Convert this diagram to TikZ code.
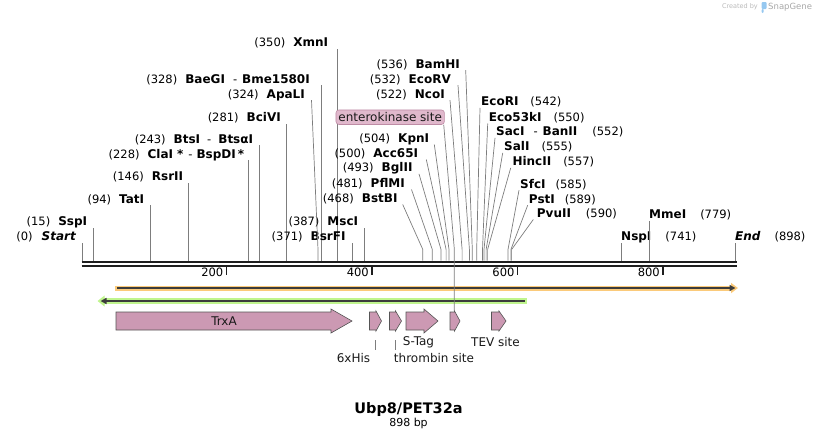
\documentclass[tikz,border=0pt]{standalone}
\usepackage{fontspec}
\setmainfont{DejaVu Sans}
\usetikzlibrary{
    arrows.meta,
    calc,
    positioning
}
\definecolor{cutgray}{RGB}{125,125,125}
\definecolor{mapblack}{RGB}{30,30,30}
\definecolor{featpink}{RGB}{204,153,179}
\definecolor{featedge}{RGB}{85,85,85}
\definecolor{ekfill}{RGB}{224,184,204}
\definecolor{ekedge}{RGB}{190,140,165}
\definecolor{orangeband}{RGB}{251,202,122}
\definecolor{greenband}{RGB}{192,245,142}
\definecolor{primerdark}{RGB}{60,60,60}
\definecolor{textgray}{RGB}{25,25,25}
\definecolor{markgray}{RGB}{185,185,185}
\definecolor{markblue}{RGB}{150,200,240}

\newcommand{\cutname}[1]{{\fontsize{12}{14}\selectfont\bfseries #1}}
\newcommand{\cutpos}[1]{{\fontsize{11.5}{14}\selectfont (#1)}}

\begin{document}
\begin{tikzpicture}[x=1pt, y=-1pt,
    cut/.style={draw=cutgray, line width=0.7pt},
    lbl/.style={inner xsep=0pt, inner ysep=1.5pt, text height=8.5pt, text depth=0.5pt, font=\fontsize{11.5}{14}\selectfont},
    lsite/.style={lbl, anchor=east},
    rsite/.style={lbl, anchor=west},
    tickmark/.style={draw=mapblack, line width=1.4pt},
    feat/.style={draw=featedge, fill=featpink, line width=0.6pt},
    ftext/.style={inner sep=0pt, font=\fontsize{12}{14}\selectfont, text=textgray},
    ebox/.style={draw=ekedge, fill=ekfill, rounded corners=3pt, inner xsep=2.5pt, inner ysep=0pt,
        minimum height=14.5pt, text depth=0pt, font=\fontsize{12}{14}\selectfont, text=textgray, line width=0.6pt}]

    \useasboundingbox (0,0) rectangle (818,440);

    % Watermark
    \node[anchor=east, inner sep=0pt, text=markgray, font=\fontsize{6.5}{8}\selectfont] (made) at (758,7) {Created by};
    \fill[markblue, rounded corners=1pt] (761.5,2) rectangle (766.5,9) (761.5,9) rectangle (763.5,13);
    \node[anchor=west, inner sep=0pt, text=markgray!90!black, font=\fontsize{8.5}{10}\selectfont] (snap) at (768,7) {SnapGene};

    % Positions on the map
    \coordinate (p0) at (82.3,260.5);
    \coordinate (p15) at (93.2,260.5);
    \coordinate (p94) at (150.7,260.5);
    \coordinate (p146) at (188.5,260.5);
    \coordinate (p228) at (248.2,260.5);
    \coordinate (p243) at (259.1,260.5);
    \coordinate (p281) at (286.8,260.5);
    \coordinate (p324) at (318.0,260.5);
    \coordinate (p328) at (321.0,260.5);
    \coordinate (p350) at (337.0,260.5);
    \coordinate (p371) at (352.2,260.5);
    \coordinate (p387) at (363.9,260.5);
    \coordinate (p468) at (422.8,260.5);
    \coordinate (p481) at (432.3,260.5);
    \coordinate (p493) at (441.0,260.5);
    \coordinate (p500) at (446.1,260.5);
    \coordinate (p504) at (449.0,260.5);
    \coordinate (p522) at (462.1,260.5);
    \coordinate (p532) at (469.4,260.5);
    \coordinate (p536) at (472.3,260.5);
    \coordinate (p542) at (476.7,260.5);
    \coordinate (p550) at (482.5,260.5);
    \coordinate (p552) at (484.0,260.5);
    \coordinate (p555) at (486.1,260.5);
    \coordinate (p557) at (487.6,260.5);
    \coordinate (p585) at (508.0,260.5);
    \coordinate (p589) at (510.9,260.5);
    \coordinate (p590) at (511.6,260.5);
    \coordinate (p741) at (621.5,260.5);
    \coordinate (p779) at (649.1,260.5);
    \coordinate (p898) at (735.7,260.5);

    % Sites, left side, straight
    \node[lsite] (Start) at (76,236.7) {\cutpos{0}\hspace{9pt}{\fontsize{12}{14}\selectfont\bfseries\itshape Start}};
    \draw[cut] (p0) -- (p0 |- Start.south);
    \node[lsite] (SspI) at (87.3,221.7) {\cutpos{15}\hspace{8pt}\cutname{SspI}};
    \draw[cut] (p15) -- (p15 |- SspI.south);
    \node[lsite] (TatI) at (144.3,199) {\cutpos{94}\hspace{8pt}\cutname{TatI}};
    \draw[cut] (p94) -- (p94 |- TatI.south);
    \node[lsite] (RsrII) at (183.3,176.7) {\cutpos{146}\hspace{8pt}\cutname{RsrII}};
    \draw[cut] (p146) -- (p146 |- RsrII.south);
    \node[lsite] (ClaI) at (244.3,154) {\cutpos{228}\hspace{8pt}\cutname{ClaI\hspace{4pt}*}\hspace{5pt}-\hspace{4pt}\cutname{BspDI\hspace{2pt}*}};
    \draw[cut] (p228) -- (p228 |- ClaI.south);
    \node[lsite] (BtsI) at (253.3,139) {\cutpos{243}\hspace{8pt}\cutname{BtsI}\hspace{7pt}-\hspace{7pt}\cutname{BtsαI}};
    \draw[cut] (p243) -- (p243 |- BtsI.south);
    \node[lsite] (BciVI) at (281,117.3) {\cutpos{281}\hspace{8pt}\cutname{BciVI}};
    \draw[cut] (p281) -- (p281 |- BciVI.south);
    \node[lsite] (BaeGI) at (310,79) {\cutpos{328}\hspace{8pt}\cutname{BaeGI}\hspace{8pt}-\hspace{5pt}\cutname{Bme1580I}};
    \draw[cut] (p328) -- (p328 |- BaeGI.south);
    \node[lsite] (XmnI) at (328.3,42.7) {\cutpos{350}\hspace{8pt}\cutname{XmnI}};
    \draw[cut] (p350) -- (p350 |- XmnI.south);
    \node[lsite] (BsrFI) at (345.7,236.7) {\cutpos{371}\hspace{8pt}\cutname{BsrFI}};
    \draw[cut] (p371) -- (p371 |- BsrFI.south);
    \node[lsite] (MscI) at (358.3,221.7) {\cutpos{387}\hspace{8pt}\cutname{MscI}};
    \draw[cut] (p387) -- (p387 |- MscI.south);

    % Sites, left side, slanted
    \node[lsite] (ApaLI) at (305,94) {\cutpos{324}\hspace{8pt}\cutname{ApaLI}};
    \draw[cut] (p324) -- ++(0,-11) -- ([xshift=6.5pt]ApaLI.south east);
    \node[lsite] (BstBI) at (397.7,198.3) {\cutpos{468}\hspace{8pt}\cutname{BstBI}};
    \draw[cut] (p468) -- ++(0,-11) -- ([xshift=5pt]BstBI.south east);
    \node[lsite] (PflMI) at (405,183.3) {\cutpos{481}\hspace{8pt}\cutname{PflMI}};
    \draw[cut] (p481) -- ++(0,-11) -- ([xshift=6.5pt]PflMI.south east);
    \node[lsite] (BglII) at (412.7,167.7) {\cutpos{493}\hspace{8pt}\cutname{BglII}};
    \draw[cut] (p493) -- ++(0,-11) -- ([xshift=6.3pt]BglII.south east);
    \node[lsite] (Acc65I) at (418.3,153.3) {\cutpos{500}\hspace{8pt}\cutname{Acc65I}};
    \draw[cut] (p500) -- ++(0,-11) -- ([xshift=8pt]Acc65I.south east);
    \node[lsite] (KpnI) at (429.3,138.3) {\cutpos{504}\hspace{8pt}\cutname{KpnI}};
    \draw[cut] (p504) -- ++(0,-11) -- ([xshift=5pt]KpnI.south east);
    \node[lsite] (NcoI) at (445,94) {\cutpos{522}\hspace{8pt}\cutname{NcoI}};
    \draw[cut] (p522) -- ++(0,-11) -- ([xshift=5pt]NcoI.south east);
    \node[lsite] (EcoRV) at (451,79) {\cutpos{532}\hspace{8pt}\cutname{EcoRV}};
    \draw[cut] (p532) -- ++(0,-11) -- ([xshift=7pt]EcoRV.south east);
    \node[lsite] (BamHI) at (460,64) {\cutpos{536}\hspace{8pt}\cutname{BamHI}};
    \draw[cut] (p536) -- ++(0,-11) -- ([xshift=5.7pt]BamHI.south east);

    % Sites, right side, slanted
    \node[rsite] (EcoRI) at (481,101.7) {\cutname{EcoRI}\hspace{12pt}\cutpos{542}};
    \draw[cut] (p542) -- ++(0,-11) -- ([xshift=-1pt]EcoRI.south west);
    \node[rsite] (Eco53kI) at (488.7,117.3) {\cutname{Eco53kI}\hspace{12pt}\cutpos{550}};
    \draw[cut] (p550) -- ++(0,-11) -- ([xshift=-1pt]Eco53kI.south west);
    \node[rsite] (SacI) at (496,131.7) {\cutname{SacI}\hspace{9pt}-\hspace{5pt}\cutname{BanII}\hspace{15pt}\cutpos{552}};
    \draw[cut] (p552) -- ++(0,-11) -- ([xshift=-1pt]SacI.south west);
    \node[rsite] (SalI) at (504,146.7) {\cutname{SalI}\hspace{12pt}\cutpos{555}};
    \draw[cut] (p555) -- ++(0,-11) -- ([xshift=-1.3pt]SalI.south west);
    \node[rsite] (HincII) at (512.3,161.7) {\cutname{HincII}\hspace{12pt}\cutpos{557}};
    \draw[cut] (p557) -- ++(0,-11) -- ([xshift=-1.6pt]HincII.south west);
    \node[rsite] (SfcI) at (520,184) {\cutname{SfcI}\hspace{10pt}\cutpos{585}};
    \draw[cut] (p585) -- ++(0,-11) -- ([xshift=-1pt]SfcI.south west);
    \node[rsite] (PstI) at (528.7,199) {\cutname{PstI}\hspace{10pt}\cutpos{589}};
    \draw[cut] (p589) -- ++(0,-11) -- ([xshift=-1pt]PstI.south west);
    \node[rsite] (PvuII) at (536.7,213.3) {\cutname{PvuII}\hspace{15pt}\cutpos{590}};
    \draw[cut] (p590) -- ++(0,-11) -- ([xshift=-3.4pt]PvuII.south west);

    % Sites, right side, straight
    \node[rsite] (NspI) at (621,236.7) {\cutname{NspI}\hspace{14pt}\cutpos{741}};
    \draw[cut] (p741) -- (p741 |- NspI.south);
    \node[rsite] (MmeI) at (649,214.3) {\cutname{MmeI}\hspace{14pt}\cutpos{779}};
    \draw[cut] (p779) -- (p779 |- MmeI.south);
    \node[rsite] (End) at (735,236.7) {{\fontsize{12}{14}\selectfont\bfseries\itshape End}\hspace{14pt}\cutpos{898}};
    \draw[cut] (p898) -- (p898 |- End.south);

    % Backbone
    \draw[mapblack, line width=2.7pt] (81.5,262) -- (736.5,262);
    \draw[mapblack, line width=2.3pt] (81.5,266) -- (736.5,266);

    % Ruler
    \coordinate (k200) at (226.5,267);
    \coordinate (k400) at (372,267);
    \coordinate (k600) at (517.6,267);
    \coordinate (k800) at (663,267);
    \draw[tickmark] (k200) -- ++(0,8);
    \draw[tickmark] (k400) -- ++(0,8);
    \draw[tickmark] (k600) -- ++(0,8);
    \draw[tickmark] (k800) -- ++(0,8);
    \node[lsite] (r200) at ([xshift=-3pt, yshift=-5pt]k200) {200};
    \node[lsite] (r400) at ([xshift=-3pt, yshift=-5pt]k400) {400};
    \node[lsite] (r600) at ([xshift=-3pt, yshift=-5pt]k600) {600};
    \node[lsite] (r800) at ([xshift=-3pt, yshift=-5pt]k800) {800};

    % Primers
    \draw[orangeband, line width=5pt, -{Triangle[length=7pt, width=10pt]}] (115,288) -- (738,288);
    \draw[primerdark, line width=1.5pt, -{Triangle[length=6pt, width=6pt]}] (117,288) -- (735.5,288);
    \draw[greenband, line width=5.4pt, -{Triangle[length=7pt, width=10.5pt]}] (526.7,301) -- (97.5,301);
    \draw[primerdark, line width=1.5pt, -{Triangle[length=6pt, width=6pt]}] (524.7,301) -- (100.5,301);

    % Features
    \draw[feat] (116,312) -- (331,312) -- (331,309) -- (352,321) -- (331,333) -- (331,330) -- (116,330) -- cycle;
    \node[ftext] (TrxA) at (224,321) {TrxA};
    \draw[feat] (369.5,312) -- (376,312) -- (376,311) -- (381.5,321) -- (376,331) -- (376,330) -- (369.5,330) -- cycle;
    \draw[feat] (389.5,312) -- (395.5,312) -- (395.5,311) -- (401.5,321) -- (395.5,331) -- (395.5,330) -- (389.5,330) -- cycle;
    \draw[feat] (406,312) -- (424,312) -- (424,309) -- (438,321) -- (424,333) -- (424,330) -- (406,330) -- cycle;
    \draw[feat] (450,312) -- (454.5,312) -- (454.5,311) -- (460,321) -- (454.5,331) -- (454.5,330) -- (450,330) -- cycle;
    \draw[feat] (491.5,312) -- (499,312) -- (499,311) -- (506,321) -- (499,331) -- (499,330) -- (491.5,330) -- cycle;

    % Feature labels
    \coordinate (his) at (375,340);
    \coordinate (thr) at (395,340);
    \node[ftext] (hisL) at (353.5,358) {6xHis};
    \node[ftext] (thrL) at (434,358) {thrombin site};
    \node[ftext] (stagL) at (418.5,342) {S-Tag};
    \node[ftext] (tevL) at (495.5,342) {TEV site};
    \draw[cut] (his) -- ++(0,10);
    \draw[cut] (thr) -- ++(0,10);

    % Enterokinase site
    \node[ebox] (EK) at (390.2,117.2) {enterokinase site};
    \coordinate (ekmap) at (454.3,249);
    \coordinate (ekfeat) at (454.3,311);
    \draw[cut] ([xshift=-1pt]EK.south east) -- (ekmap) -- (ekfeat);

    % Title
    \node[inner sep=0pt, font=\fontsize{14.5}{17}\selectfont\bfseries] (title) at (408.5,409) {Ubp8/PET32a};
    \node[inner sep=0pt, below=1.8pt of title, font=\fontsize{11}{13}\selectfont] (size) {898 bp};
\end{tikzpicture}
\end{document}
